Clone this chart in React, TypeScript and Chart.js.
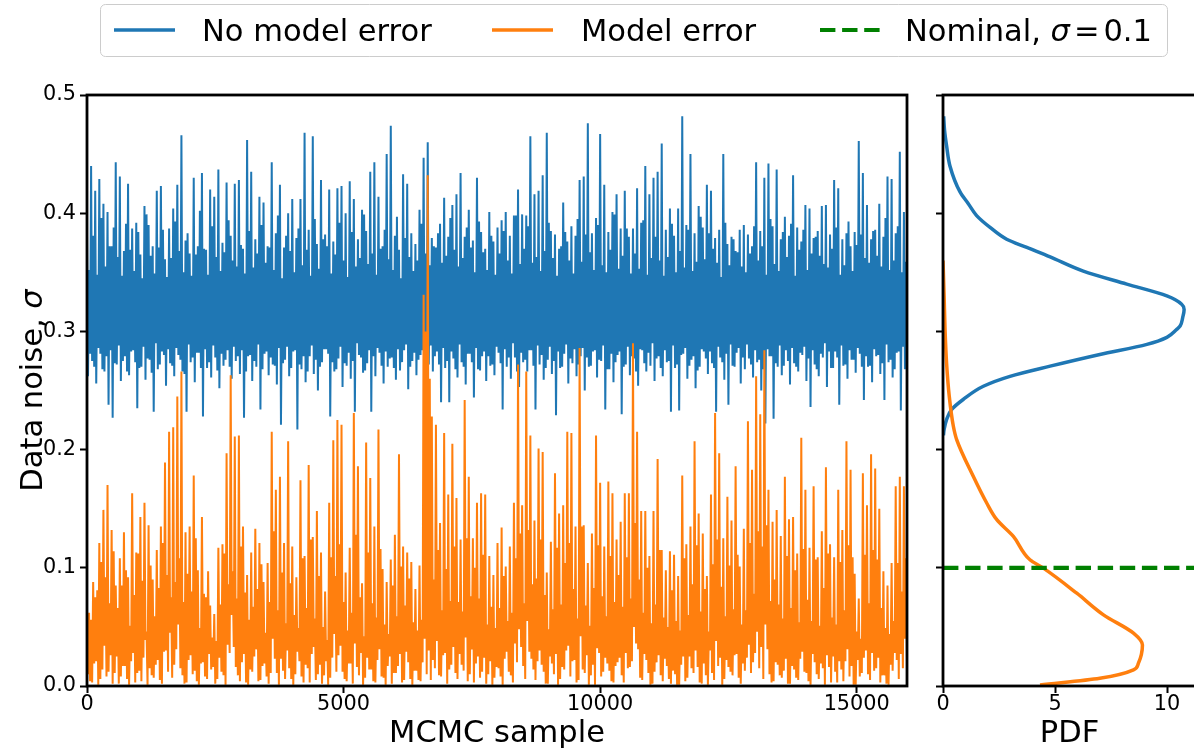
import React, { useEffect, useRef } from "react";
import { Chart, registerables } from "chart.js";

Chart.register(...registerables);

// ---------------- data ----------------
// MCMC traces (thinned: one stored value every SAMPLE_STEP samples)
const SAMPLE_STEP = 20;
const SAMPLE_MAX = 15980;

const noErrorTrace = [
  0.384,0.262,0.352,0.281,0.440,0.275,0.381,0.270,0.419,0.256,0.348,0.286,0.429,0.281,0.396,0.268,0.408,0.266,0.355,0.279,0.401,0.238,0.372,0.284,0.372,0.227,0.388,0.273,0.443,0.272,0.363,0.288,0.431,0.258,0.347,0.275,0.368,0.279,0.391,0.266,
  0.425,0.263,0.369,0.283,0.387,0.284,0.351,0.274,0.392,0.235,0.384,0.269,0.365,0.270,0.345,0.287,0.406,0.259,0.399,0.277,0.390,0.276,0.364,0.265,0.372,0.232,0.349,0.290,0.419,0.268,0.371,0.272,0.423,0.283,0.386,0.280,0.361,0.254,0.346,0.285,
  0.387,0.273,0.362,0.271,0.404,0.262,0.393,0.286,0.424,0.280,0.368,0.276,0.466,0.266,0.350,0.264,0.377,0.232,0.383,0.289,0.366,0.274,0.347,0.278,0.430,0.257,0.365,0.282,0.372,0.282,0.402,0.269,0.434,0.228,0.370,0.285,0.369,0.269,0.348,0.274,
  0.420,0.261,0.389,0.288,0.414,0.278,0.363,0.267,0.437,0.252,0.351,0.281,0.375,0.271,0.367,0.276,0.426,0.284,0.394,0.270,0.381,0.260,0.360,0.287,0.425,0.275,0.355,0.279,0.428,0.264,0.373,0.284,0.370,0.227,0.349,0.266,0.462,0.279,0.385,0.280,
  0.435,0.258,0.354,0.275,0.378,0.270,0.366,0.289,0.414,0.234,0.390,0.268,0.409,0.281,0.358,0.283,0.372,0.263,0.371,0.278,0.443,0.272,0.352,0.271,0.383,0.255,0.398,0.286,0.424,0.221,0.345,0.273,0.371,0.276,0.381,0.287,0.400,0.262,0.368,0.269,
  0.412,0.283,0.350,0.284,0.379,0.217,0.387,0.272,0.412,0.268,0.356,0.279,0.468,0.257,0.369,0.266,0.386,0.279,0.347,0.288,0.465,0.264,0.395,0.276,0.374,0.250,0.353,0.270,0.428,0.274,0.378,0.285,0.382,0.285,0.372,0.281,0.420,0.228,0.349,0.274,
  0.376,0.266,0.365,0.268,0.421,0.277,0.392,0.287,0.423,0.253,0.360,0.273,0.400,0.271,0.346,0.282,0.427,0.260,0.384,0.275,0.412,0.232,0.355,0.290,0.378,0.280,0.362,0.278,0.403,0.265,0.399,0.267,0.385,0.273,0.357,0.284,0.435,0.232,0.366,0.279,
  0.443,0.262,0.348,0.286,0.414,0.282,0.370,0.271,0.372,0.256,0.386,0.283,0.450,0.270,0.361,0.277,0.474,0.278,0.352,0.269,0.381,0.259,0.397,0.285,0.369,0.267,0.345,0.274,0.433,0.284,0.379,0.289,0.425,0.251,0.363,0.270,0.383,0.275,0.351,0.282,
  0.374,0.263,0.360,0.276,0.403,0.280,0.391,0.284,0.447,0.257,0.366,0.267,0.460,0.272,0.356,0.288,0.379,0.266,0.372,0.279,0.371,0.283,0.383,0.272,0.391,0.240,0.358,0.286,0.413,0.269,0.364,0.275,0.380,0.240,0.396,0.283,0.407,0.277,0.369,0.268,
  0.416,0.261,0.355,0.289,0.434,0.274,0.362,0.270,0.380,0.255,0.388,0.281,0.403,0.281,0.371,0.274,0.377,0.244,0.350,0.286,0.430,0.268,0.393,0.267,0.384,0.279,0.367,0.283,0.370,0.258,0.352,0.279,0.401,0.271,0.381,0.272,0.376,0.263,0.348,0.287,
  0.388,0.282,0.366,0.273,0.394,0.234,0.385,0.285,0.401,0.270,0.360,0.278,0.381,0.260,0.349,0.290,0.398,0.278,0.398,0.266,0.420,0.253,0.357,0.282,0.399,0.274,0.370,0.276,0.398,0.266,0.389,0.284,0.465,0.284,0.358,0.271,0.416,0.234,0.363,0.288,
  0.419,0.272,0.351,0.280,0.432,0.259,0.368,0.269,0.468,0.276,0.392,0.287,0.385,0.264,0.362,0.275,0.382,0.229,0.347,0.283,0.370,0.269,0.372,0.270,0.409,0.281,0.384,0.289,0.376,0.256,0.360,0.277,0.389,0.273,0.349,0.285,0.381,0.262,0.395,0.272,
  0.428,0.279,0.359,0.286,0.431,0.250,0.382,0.278,0.476,0.270,0.367,0.271,0.383,0.283,0.352,0.284,0.396,0.261,0.390,0.276,0.467,0.275,0.356,0.288,0.424,0.234,0.350,0.268,0.384,0.268,0.369,0.281,0.401,0.257,0.399,0.274,0.416,0.280,0.353,0.283,
  0.387,0.230,0.364,0.270,0.419,0.272,0.387,0.287,0.380,0.263,0.349,0.279,0.387,0.277,0.366,0.266,0.421,0.254,0.353,0.285,0.392,0.284,0.394,0.273,0.440,0.266,0.348,0.282,0.416,0.271,0.362,0.290,0.430,0.258,0.380,0.277,0.435,0.279,0.360,0.269,
  0.459,0.262,0.347,0.284,0.386,0.274,0.363,0.275,0.404,0.232,0.391,0.288,0.381,0.269,0.350,0.272,0.404,0.233,0.368,0.280,0.482,0.281,0.354,0.286,0.390,0.260,0.386,0.271,0.450,0.276,0.351,0.279,0.383,0.252,0.359,0.267,0.406,0.270,0.397,0.285,
  0.388,0.283,0.361,0.277,0.424,0.264,0.383,0.283,0.419,0.273,0.370,0.269,0.379,0.232,0.358,0.287,0.386,0.278,0.346,0.274,0.450,0.259,0.392,0.281,0.374,0.238,0.356,0.289,0.380,0.271,0.378,0.270,0.368,0.282,0.367,0.286,0.386,0.256,0.355,0.278,
  0.390,0.268,0.350,0.289,0.382,0.277,0.366,0.272,0.372,0.261,0.389,0.284,0.443,0.274,0.360,0.276,0.385,0.250,0.372,0.268,0.430,0.222,0.348,0.285,0.442,0.279,0.395,0.279,0.389,0.226,0.357,0.273,0.437,0.270,0.351,0.288,0.378,0.263,0.384,0.271,
  0.397,0.284,0.363,0.275,0.381,0.255,0.391,0.286,0.432,0.273,0.347,0.270,0.388,0.266,0.369,0.282,0.376,0.280,0.386,0.287,0.407,0.258,0.352,0.277,0.404,0.236,0.366,0.284,0.379,0.272,0.380,0.268,0.385,0.262,0.364,0.281,0.406,0.278,0.357,0.290,
  0.407,0.253,0.354,0.283,0.382,0.269,0.370,0.269,0.428,0.283,0.388,0.278,0.421,0.238,0.348,0.288,0.378,0.271,0.356,0.272,0.383,0.260,0.393,0.284,0.372,0.276,0.351,0.276,0.384,0.265,0.373,0.286,0.461,0.281,0.382,0.270,0.434,0.242,0.362,0.279,
  0.407,0.270,0.358,0.271,0.378,0.257,0.385,0.285,0.386,0.279,0.364,0.280,0.408,0.264,0.355,0.273,0.380,0.242,0.396,0.289,0.431,0.274,0.352,0.276,0.429,0.261,0.360,0.268,0.383,0.282,0.389,0.283,0.452,0.233,0.350,0.287,0.401,0.268,0.359,0.274,
];

const modelErrorTrace = [
  0.045,0.010,0.062,0.004,0.056,0.003,0.088,0.019,0.075,0.021,0.081,0.001,0.121,0.006,0.105,0.014,0.149,0.034,0.092,0.008,0.170,0.012,0.070,0.026,0.132,0.002,0.114,0.011,0.085,0.025,0.066,0.002,0.108,0.008,0.085,0.017,0.130,0.017,0.098,0.006,
  0.092,0.001,0.051,0.021,0.163,0.028,0.077,0.003,0.113,0.011,0.112,0.013,0.143,0.004,0.089,0.024,0.155,0.039,0.046,0.001,0.136,0.015,0.102,0.009,0.090,0.007,0.059,0.018,0.115,0.022,0.083,0.005,0.135,0.002,0.121,0.029,0.189,0.030,0.094,0.012,
  0.215,0.045,0.075,0.007,0.219,0.018,0.088,0.031,0.245,0.052,0.108,0.015,0.266,0.009,0.071,0.002,0.130,0.003,0.095,0.022,0.135,0.026,0.080,0.010,0.178,0.013,0.125,0.004,0.098,0.001,0.049,0.019,0.143,0.020,0.078,0.008,0.075,0.006,0.097,0.027,
  0.068,0.014,0.041,0.016,0.061,0.002,0.038,0.006,0.117,0.024,0.069,0.012,0.120,0.009,0.112,0.001,0.197,0.035,0.086,0.028,0.263,0.060,0.097,0.033,0.211,0.016,0.074,0.009,0.212,0.004,0.118,0.020,0.135,0.027,0.079,0.003,0.094,0.001,0.056,0.014,
  0.113,0.012,0.067,0.025,0.133,0.031,0.082,0.004,0.121,0.005,0.103,0.017,0.088,0.019,0.045,0.008,0.104,0.002,0.071,0.011,0.215,0.040,0.131,0.023,0.166,0.011,0.064,0.001,0.177,0.023,0.096,0.013,0.121,0.006,0.053,0.030,0.207,0.015,0.087,0.006,
  0.118,0.001,0.060,0.010,0.092,0.029,0.049,0.021,0.174,0.008,0.108,0.003,0.110,0.018,0.066,0.015,0.187,0.003,0.124,0.027,0.126,0.033,0.057,0.005,0.148,0.010,0.093,0.018,0.113,0.002,0.050,0.009,0.080,0.021,0.039,0.001,0.155,0.007,0.109,0.024,
  0.208,0.044,0.093,0.012,0.225,0.026,0.120,0.034,0.221,0.012,0.071,0.006,0.096,0.004,0.047,0.019,0.117,0.019,0.062,0.002,0.231,0.036,0.128,0.016,0.186,0.009,0.075,0.028,0.087,0.001,0.042,0.007,0.206,0.024,0.113,0.014,0.176,0.014,0.070,0.004,
  0.135,0.003,0.058,0.022,0.217,0.031,0.116,0.008,0.099,0.007,0.052,0.001,0.088,0.017,0.044,0.025,0.107,0.002,0.085,0.011,0.128,0.011,0.059,0.017,0.196,0.027,0.101,0.003,0.118,0.005,0.068,0.029,0.113,0.020,0.091,0.006,0.105,0.001,0.054,0.013,
  0.082,0.013,0.047,0.005,0.102,0.004,0.056,0.020,0.331,0.040,0.300,0.010,0.432,0.030,0.260,0.005,0.228,0.022,0.090,0.015,0.221,0.038,0.115,0.009,0.138,0.008,0.064,0.026,0.214,0.028,0.099,0.002,0.162,0.014,0.072,0.018,0.205,0.033,0.118,0.011,
  0.159,0.006,0.071,0.027,0.124,0.018,0.063,0.013,0.242,0.041,0.125,0.004,0.177,0.010,0.076,0.031,0.125,0.003,0.100,0.019,0.155,0.025,0.074,0.007,0.163,0.012,0.111,0.024,0.162,0.002,0.052,0.010,0.110,0.021,0.067,0.001,0.094,0.007,0.049,0.016,
  0.121,0.015,0.066,0.008,0.134,0.001,0.093,0.023,0.101,0.029,0.055,0.012,0.118,0.009,0.062,0.003,0.155,0.036,0.108,0.020,0.272,0.048,0.129,0.033,0.153,0.017,0.070,0.006,0.266,0.055,0.132,0.029,0.212,0.023,0.086,0.014,0.140,0.005,0.091,0.021,
  0.201,0.030,0.124,0.018,0.198,0.012,0.077,0.002,0.096,0.002,0.048,0.025,0.122,0.019,0.065,0.010,0.180,0.027,0.117,0.001,0.146,0.006,0.069,0.016,0.153,0.014,0.104,0.030,0.215,0.034,0.121,0.008,0.214,0.021,0.082,0.022,0.135,0.003,0.057,0.005,
  0.286,0.042,0.135,0.014,0.136,0.011,0.068,0.026,0.104,0.001,0.051,0.009,0.129,0.018,0.083,0.001,0.212,0.032,0.119,0.028,0.172,0.008,0.076,0.012,0.118,0.024,0.059,0.019,0.173,0.013,0.110,0.004,0.163,0.003,0.071,0.017,0.124,0.020,0.094,0.024,
  0.139,0.009,0.067,0.003,0.163,0.028,0.109,0.015,0.163,0.016,0.074,0.021,0.290,0.050,0.138,0.036,0.215,0.031,0.090,0.007,0.148,0.005,0.062,0.027,0.148,0.022,0.100,0.011,0.110,0.001,0.053,0.002,0.148,0.012,0.069,0.020,0.192,0.026,0.115,0.009,
  0.115,0.004,0.058,0.023,0.098,0.017,0.050,0.006,0.114,0.002,0.081,0.013,0.111,0.010,0.055,0.001,0.093,0.001,0.047,0.018,0.178,0.025,0.108,0.004,0.120,0.007,0.060,0.025,0.135,0.015,0.086,0.011,0.207,0.030,0.119,0.016,0.146,0.003,0.063,0.002,
  0.129,0.019,0.082,0.009,0.093,0.001,0.046,0.030,0.162,0.011,0.103,0.005,0.231,0.038,0.124,0.017,0.197,0.024,0.084,0.001,0.125,0.006,0.059,0.022,0.160,0.016,0.102,0.012,0.140,0.009,0.065,0.026,0.186,0.027,0.111,0.007,0.101,0.002,0.052,0.019,
  0.133,0.013,0.064,0.024,0.224,0.035,0.121,0.011,0.183,0.020,0.078,0.028,0.262,0.046,0.131,0.015,0.230,0.033,0.118,0.006,0.284,0.052,0.136,0.031,0.166,0.010,0.072,0.003,0.139,0.004,0.090,0.020,0.149,0.018,0.069,0.009,0.127,0.007,0.057,0.013,
  0.177,0.023,0.110,0.002,0.141,0.002,0.066,0.017,0.143,0.014,0.098,0.007,0.112,0.005,0.054,0.023,0.210,0.029,0.116,0.012,0.166,0.011,0.073,0.004,0.117,0.001,0.055,0.027,0.169,0.020,0.107,0.010,0.109,0.006,0.051,0.019,0.131,0.015,0.083,0.001,
  0.185,0.026,0.112,0.016,0.120,0.003,0.058,0.025,0.109,0.012,0.052,0.003,0.166,0.021,0.105,0.014,0.132,0.004,0.064,0.021,0.207,0.031,0.119,0.008,0.183,0.017,0.109,0.001,0.095,0.001,0.046,0.022,0.074,0.008,0.040,0.011,0.180,0.024,0.111,0.030,
  0.153,0.010,0.070,0.005,0.196,0.028,0.115,0.013,0.184,0.015,0.107,0.024,0.150,0.003,0.066,0.009,0.097,0.009,0.049,0.002,0.085,0.001,0.044,0.018,0.104,0.013,0.055,0.028,0.169,0.022,0.104,0.006,0.177,0.027,0.080,0.015,0.169,0.040,0.108,0.020,
];

// Posterior densities (sigma, pdf)
const pdfSigmaNoError = [0.482,0.470,0.457,0.440,0.418,0.408,0.398,0.388,0.378,0.371,0.363,0.351,0.340,0.330,0.323,0.3186,0.312,0.3045,0.3017,0.295,0.289,0.2805,0.2706,0.262,0.2536,0.2424,0.234,0.2254,0.217,0.212];
const pdfNoError = [0.03,0.07,0.16,0.31,0.76,1.13,1.50,2.10,2.84,3.74,4.78,6.26,8.20,9.99,10.65,10.76,10.70,10.58,10.43,9.99,9.10,7.00,4.78,2.99,1.80,0.90,0.39,0.16,0.05,0.02];

const pdfSigmaModelError = [0.360,0.330,0.302,0.273,0.245,0.220,0.2085,0.1774,0.1548,0.1407,0.1265,0.1068,0.0997,0.0785,0.0602,0.0447,0.0347,0.0192,0.0136,0.0065,0.0008];
const pdfModelError = [0.00,0.05,0.09,0.16,0.28,0.46,0.61,1.35,1.95,2.40,3.14,3.88,4.48,5.97,7.16,8.50,8.90,8.72,8.50,7.00,4.33];

const nominalSigma = 0.1;

const sigmaTicks = [0, 0.1, 0.2, 0.3, 0.4, 0.5];
const sampleTicks = [0, 5000, 10000, 15000];
const pdfTicks = [0, 5, 10];
const PDF_MAX = 11.29;

const seriesLabels = ["No model error", "Model error"];
const nominalLabel = "Nominal, ";
const yTitle = "Data noise, ";
const xTitleTrace = "MCMC sample";
const xTitlePdf = "PDF";

// ---------------- styles ----------------
const BLUE = "#1f77b4";
const ORANGE = "#ff7f0e";
const GREEN = "#008000";
const FONT = '"DejaVu Sans", sans-serif';
const TICK_SIZE = 20.8;
const LABEL_SIZE = 30.5;
const TRACE_WIDTH = 2;

Chart.defaults.font.family = FONT;
Chart.defaults.color = "#000";

const frameBox = {
  id: "frameBox",
  afterDatasetsDraw(chart: any) {
    const { ctx, chartArea: a } = chart;
    ctx.save();
    ctx.strokeStyle = "#000";
    ctx.lineWidth = 2.8;
    ctx.strokeRect(a.left, a.top, a.right - a.left, a.bottom - a.top);
    ctx.restore();
  },
};

function drawHandle(ctx: any, x0: number, x1: number, y: number, color: string, width: number, dash: number[]) {
  ctx.save();
  ctx.strokeStyle = color;
  ctx.lineWidth = width;
  ctx.lineCap = "butt";
  ctx.setLineDash(dash);
  ctx.beginPath();
  ctx.moveTo(x0, y);
  ctx.lineTo(x1, y);
  ctx.stroke();
  ctx.restore();
}

const figureLegendAndTitle = {
  id: "figureLegendAndTitle",
  afterDraw(chart: any) {
    const ctx = chart.ctx;
    ctx.save();
    // legend frame
    ctx.beginPath();
    ctx.roundRect(100.5, 4.5, 1067, 52, 5);
    ctx.fillStyle = "rgba(255,255,255,0.8)";
    ctx.fill();
    ctx.strokeStyle = "#cccccc";
    ctx.lineWidth = 1;
    ctx.stroke();

    const hy = 30;
    const base = 41;
    const regular = `${LABEL_SIZE}px ${FONT}`;
    const italic = `italic ${LABEL_SIZE}px ${FONT}`;
    ctx.fillStyle = "#000";
    ctx.textBaseline = "alphabetic";
    ctx.textAlign = "left";

    drawHandle(ctx, 114, 175, hy, BLUE, 3.5, []);
    ctx.font = regular;
    ctx.fillText(seriesLabels[0], 202, base);

    drawHandle(ctx, 492, 553, hy, ORANGE, 3.5, []);
    ctx.fillText(seriesLabels[1], 581, base);

    drawHandle(ctx, 820, 881, hy, GREEN, 4.2, [15.4, 6.7]);
    let x = 905;
    ctx.font = regular;
    ctx.fillText(nominalLabel, x, base);
    x += ctx.measureText(nominalLabel).width;
    ctx.font = italic;
    ctx.fillText("σ", x, base);
    x += ctx.measureText("σ").width + 4;
    ctx.font = regular;
    ctx.fillText("=", x, base);
    x += ctx.measureText("=").width + 4;
    ctx.fillText(String(nominalSigma), x, base);

    // y-axis title with italic sigma
    const a = chart.chartArea;
    const cy = (a.top + a.bottom) / 2;
    ctx.translate(42, cy);
    ctx.rotate(-Math.PI / 2);
    ctx.font = regular;
    const w1 = ctx.measureText(yTitle).width;
    ctx.font = italic;
    const w2 = ctx.measureText("σ").width;
    const start = -(w1 + w2) / 2;
    ctx.font = regular;
    ctx.fillText(yTitle, start, 0);
    ctx.font = italic;
    ctx.fillText("σ", start + w1, 0);
    ctx.restore();
  },
};

const gridCfg = {
  drawOnChartArea: false,
  drawTicks: true,
  tickLength: 7,
  tickWidth: 2,
  tickColor: "#000",
};

function traceConfig(): any {
  return {
    type: "line",
    data: {
      datasets: [
        {
          label: seriesLabels[1],
          data: modelErrorTrace.map((v, i) => ({ x: i * SAMPLE_STEP, y: v })),
          borderColor: ORANGE,
          borderWidth: TRACE_WIDTH,
          pointRadius: 0,
          tension: 0,
          order: 0,
        },
        {
          label: seriesLabels[0],
          data: noErrorTrace.map((v, i) => ({ x: i * SAMPLE_STEP, y: v })),
          borderColor: BLUE,
          borderWidth: TRACE_WIDTH,
          pointRadius: 0,
          tension: 0,
          order: 1,
        },
      ],
    },
    options: {
      animation: false,
      responsive: false,
      devicePixelRatio: 1,
      events: [],
      layout: { padding: { left: 0, top: 95, right: 287, bottom: 0 } },
      plugins: { legend: { display: false }, tooltip: { enabled: false } },
      scales: {
        x: {
          type: "linear",
          min: 0,
          max: SAMPLE_MAX,
          afterBuildTicks: (s: any) => { s.ticks = sampleTicks.map((value) => ({ value })); },
          afterFit: (s: any) => { s.height = 63; },
          grid: gridCfg,
          border: { display: false },
          ticks: {
            color: "#000",
            font: { size: TICK_SIZE, lineHeight: 1 },
            padding: 1,
            maxRotation: 0,
            autoSkip: false,
            callback: (v: any) => String(v),
          },
          title: {
            display: true,
            text: xTitleTrace,
            color: "#000",
            font: { size: LABEL_SIZE, lineHeight: 1 },
            padding: 0,
          },
        },
        y: {
          type: "linear",
          min: 0,
          max: 0.5,
          afterBuildTicks: (s: any) => { s.ticks = sigmaTicks.map((value) => ({ value })); },
          afterFit: (s: any) => { s.width = 87; },
          grid: gridCfg,
          border: { display: false },
          ticks: {
            color: "#000",
            font: { size: TICK_SIZE },
            padding: 4,
            autoSkip: false,
            callback: (v: any) => Number(v).toFixed(1),
          },
        },
      },
    },
    plugins: [frameBox, figureLegendAndTitle],
  };
}

function pdfConfig(): any {
  return {
    type: "line",
    data: {
      datasets: [
        {
          label: nominalLabel + "σ = " + nominalSigma,
          data: [{ x: 0, y: nominalSigma }, { x: PDF_MAX, y: nominalSigma }],
          borderColor: GREEN,
          borderWidth: 4.2,
          borderDash: [15.4, 6.7],
          pointRadius: 0,
          order: 0,
        },
        {
          label: seriesLabels[1],
          data: pdfModelError.map((v, i) => ({ x: v, y: pdfSigmaModelError[i] })),
          borderColor: ORANGE,
          borderWidth: 3.5,
          pointRadius: 0,
          cubicInterpolationMode: "monotone",
          order: 1,
        },
        {
          label: seriesLabels[0],
          data: pdfNoError.map((v, i) => ({ x: v, y: pdfSigmaNoError[i] })),
          borderColor: BLUE,
          borderWidth: 3.5,
          pointRadius: 0,
          cubicInterpolationMode: "monotone",
          order: 2,
        },
      ],
    },
    options: {
      animation: false,
      responsive: false,
      devicePixelRatio: 1,
      events: [],
      indexAxis: "y",
      layout: { padding: { left: 0, top: 95, right: 4, bottom: 0 } },
      plugins: { legend: { display: false }, tooltip: { enabled: false } },
      scales: {
        x: {
          type: "linear",
          min: 0,
          max: PDF_MAX,
          afterBuildTicks: (s: any) => { s.ticks = pdfTicks.map((value) => ({ value })); },
          afterFit: (s: any) => { s.height = 63; },
          grid: gridCfg,
          border: { display: false },
          ticks: {
            color: "#000",
            font: { size: TICK_SIZE, lineHeight: 1 },
            padding: 1,
            maxRotation: 0,
            autoSkip: false,
            callback: (v: any) => String(v),
          },
          title: {
            display: true,
            text: xTitlePdf,
            color: "#000",
            font: { size: LABEL_SIZE, lineHeight: 1 },
            padding: 0,
          },
        },
        y: {
          type: "linear",
          min: 0,
          max: 0.5,
          afterBuildTicks: (s: any) => { s.ticks = sigmaTicks.map((value) => ({ value })); },
          afterFit: (s: any) => { s.width = 43; },
          grid: gridCfg,
          border: { display: false },
          ticks: { display: false },
        },
      },
    },
    plugins: [frameBox],
  };
}

export default function App() {
  const leftRef = useRef<HTMLCanvasElement>(null);
  const rightRef = useRef<HTMLCanvasElement>(null);

  useEffect(() => {
    const c1 = new Chart(leftRef.current as HTMLCanvasElement, traceConfig());
    const c2 = new Chart(rightRef.current as HTMLCanvasElement, pdfConfig());
    return () => {
      c1.destroy();
      c2.destroy();
    };
  }, []);

  return (
    <div
      style={{
        position: "fixed",
        left: 0,
        top: 0,
        width: 1194,
        height: 749,
        overflow: "hidden",
        background: "#ffffff",
      }}
    >
      <canvas
        ref={leftRef}
        width={1194}
        height={749}
        style={{ position: "absolute", left: 0, top: 0, width: 1194, height: 749 }}
      />
      <canvas
        ref={rightRef}
        width={300}
        height={749}
        style={{ position: "absolute", left: 900, top: 0, width: 300, height: 749 }}
      />
    </div>
  );
}
